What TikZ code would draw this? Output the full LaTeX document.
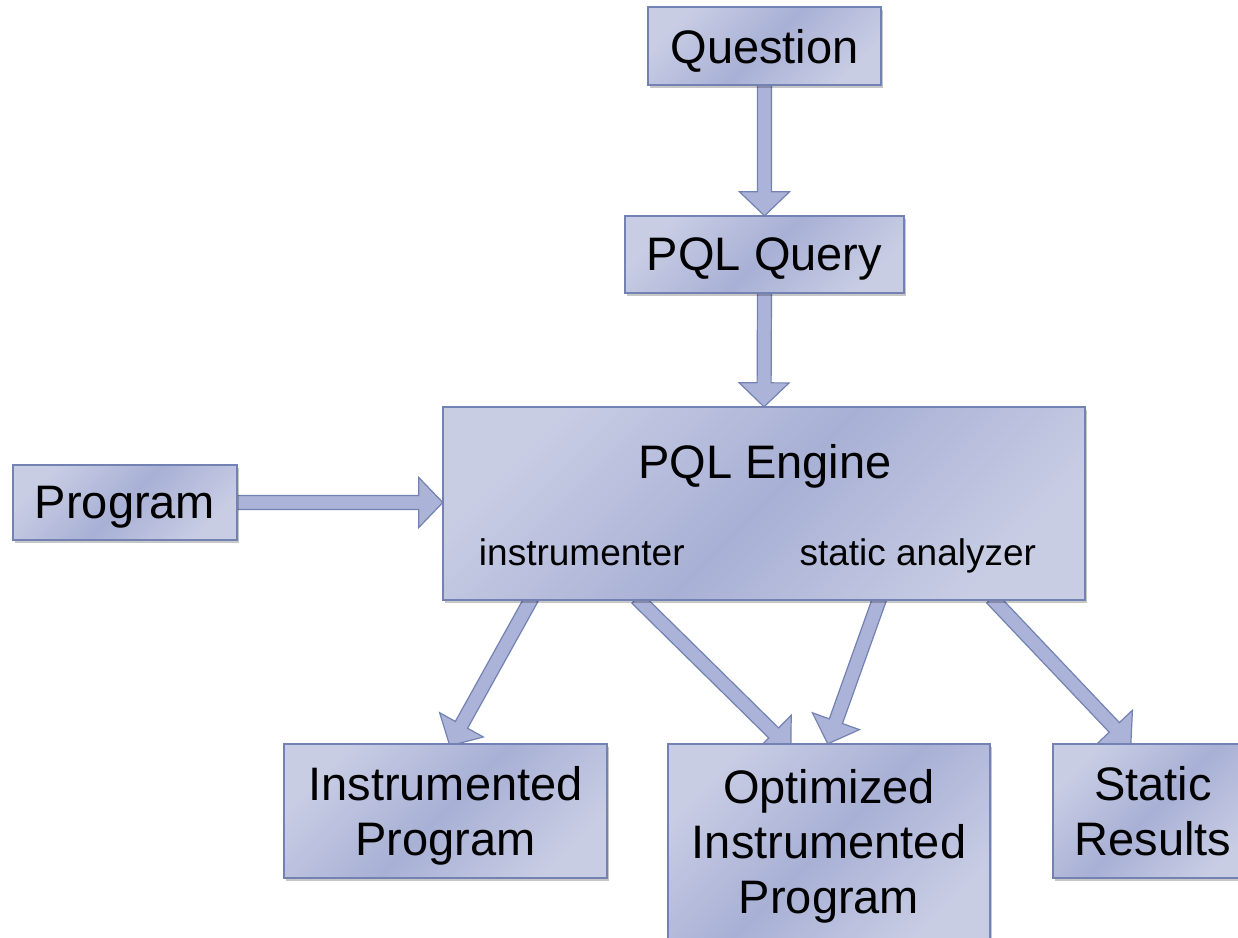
\documentclass[tikz,border=0pt]{standalone}
\usepackage{fontspec}
\setmainfont{Liberation Sans}
\usetikzlibrary{calc,shadows}
\definecolor{boxlight}{HTML}{C8CDE4}
\definecolor{boxmid}{HTML}{A8B0D5}
\definecolor{boxline}{HTML}{7382B3}
\definecolor{arrowfill}{HTML}{ABB3D8}
\tikzset{
  box/.style={draw=boxline, line width=1.3pt, left color=boxlight, right color=boxlight,
    middle color=boxmid, shading angle=45, inner sep=0pt, align=center,
    font=\fontsize{47}{55}\selectfont, text depth=0pt,
    drop shadow={shadow xshift=1.5pt, shadow yshift=-3pt, fill=black, opacity=0.22}},
  bigtext/.style={inner sep=0pt, font=\fontsize{47}{55}\selectfont, anchor=base},
  smalltext/.style={inner sep=0pt, font=\fontsize{37}{44}\selectfont, anchor=base},
  blockarrow/.style={draw=boxline, line width=1.2pt, fill=arrowfill, line join=miter}
}
% block arrow: #1 start, #2 tip, #3 name prefix
\newcommand{\barrow}[3]{%
  \coordinate (#3h) at ($(#2)!24pt!(#1)$);
  \filldraw[blockarrow] ($(#1)!7pt!90:(#2)$) -- ($(#3h)!7pt!90:(#2)$) -- ($(#3h)!25pt!90:(#2)$)
    -- (#2) -- ($(#3h)!25pt!-90:(#2)$) -- ($(#3h)!7pt!-90:(#2)$) -- ($(#1)!7pt!-90:(#2)$) -- cycle;
}
\begin{document}
\begin{tikzpicture}[x=1pt,y=-1pt]
\useasboundingbox (0,0) rectangle (1238,937);
\clip (0,0) rectangle (1238,937);
\fill[white] (0,0) rectangle (1238,937);

% node placeholders (positions) drawn later on top of arrows
\path (764.5,46) coordinate (qc);
\path (764.5,254.5) coordinate (qryc);
\path (764,503.5) coordinate (engc);
\path (125,502.5) coordinate (progc);
\path (445.5,811) coordinate (insc);
\path (829,841.5) coordinate (optc);
\path (1153,811) coordinate (statc);

% invisible nodes for geometry
\node[minimum width=233pt, minimum height=78pt, inner sep=0pt] (q) at (qc) {};
\node[minimum width=279pt, minimum height=77pt, inner sep=0pt] (qry) at (qryc) {};
\node[minimum width=642pt, minimum height=193pt, inner sep=0pt] (eng) at (engc) {};
\node[minimum width=224pt, minimum height=75pt, inner sep=0pt] (prog) at (progc) {};
\node[minimum width=323pt, minimum height=134pt, inner sep=0pt] (ins) at (insc) {};
\node[minimum width=322pt, minimum height=195pt, inner sep=0pt] (opt) at (optc) {};
\node[minimum width=200pt, minimum height=134pt, inner sep=0pt] (stat) at (statc) {};

% connectors
\barrow{q.south}{qry.north}{a1}
\barrow{qry.south}{eng.north}{a2}
\barrow{prog.east}{eng.west |- prog.east}{a3}
\coordinate (s4) at ($(eng.south west)+(89,-2)$);
\coordinate (e4) at ($(ins.north west)+(166,2)$);
\barrow{s4}{e4}{a4}
\coordinate (s5) at ($(eng.south west)+(194,-2)$);
\coordinate (e5) at ($(opt.north west)+(123,6)$);
\barrow{s5}{e5}{a5}
\coordinate (s6) at ($(eng.south west)+(437,-2)$);
\coordinate (e6) at ($(opt.north west)+(160,0)$);
\barrow{s6}{e6}{a6}
\coordinate (s7) at ($(eng.south west)+(549,-2)$);
\coordinate (e7) at ($(stat.north west)+(78,1)$);
\barrow{s7}{e7}{a7}

% boxes
\node[box, minimum width=233pt, minimum height=78pt] (qb) at (qc) {Question};
\node[box, minimum width=279pt, minimum height=77pt] (qryb) at (qryc) {PQL Query};
\node[box, minimum width=642pt, minimum height=193pt] (engb) at (engc) {};
\node[box, minimum width=224pt, minimum height=75pt] (progb) at (progc) {Program};
\node[box, minimum width=323pt, minimum height=134pt] (insb) at (insc) {Instrumented\\Program};
\node[box, minimum width=322pt, minimum height=195pt] (optb) at (optc) {Optimized\\Instrumented\\Program};
\node[box, minimum width=200pt, minimum height=134pt] (statb) at (statc) {Static\\Results};

% engine texts
\node[bigtext] (engt) at ($(eng.north)+(1,72)$) {PQL Engine};
\node[smalltext] (instr) at ($(eng.south west)+(139,-35)$) {instrumenter};
\node[smalltext] (stana) at ($(eng.south west)+(475,-35)$) {static analyzer};
\end{tikzpicture}
\end{document}
